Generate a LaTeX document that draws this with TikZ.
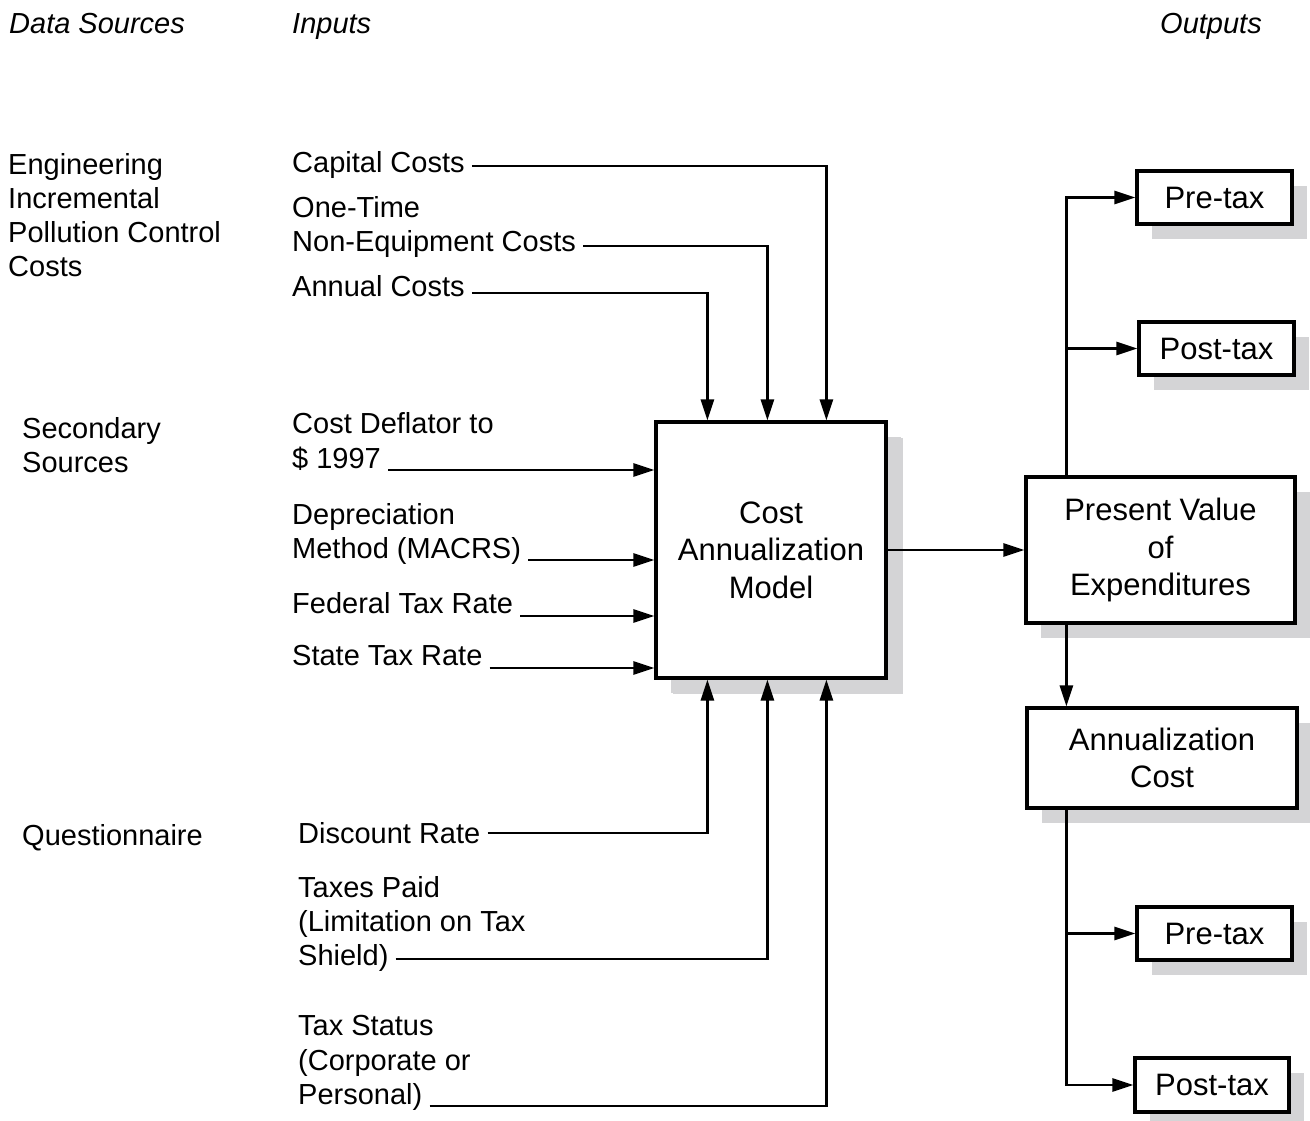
\documentclass[tikz,border=0pt]{standalone}
\usepackage{fontspec}
\setmainfont{Liberation Sans}
\usetikzlibrary{arrows.meta,shadows}
\definecolor{shadowgray}{RGB}{212,212,214}
\tikzset{
  lbl/.style={inner sep=0pt, anchor=base west, font=\fontsize{29pt}{34.5pt}\selectfont},
  hdr/.style={lbl, font=\fontsize{29pt}{34.5pt}\selectfont\itshape},
  box/.style={draw, line width=3.2pt, fill=white, align=center, inner sep=0pt,
    font=\fontsize{31pt}{37.5pt}\selectfont,
    drop shadow={shadow xshift=15pt, shadow yshift=-15pt, fill=shadowgray, opacity=1}},
  bigbox/.style={box, drop shadow={shadow xshift=17pt, shadow yshift=-16pt, fill=shadowgray, opacity=1}},
  conn/.style={line width=2.8pt},
  arr/.style={conn, -{Triangle[length=21pt 0 0,width=13pt 0 0]}}
}
\begin{document}
\begin{tikzpicture}[x=1pt,y=-1pt]
\useasboundingbox (0,0) rectangle (1310,1120);

% headers
\node[hdr] (hds) at (9,33) {Data Sources};
\node[hdr] (hin) at (292,33) {Inputs};
\node[hdr] (hout) at (1160,33) {Outputs};

% data sources
\node[lbl] (s1) at (8,174) {Engineering};
\node[lbl] (s2) at (8,208) {Incremental};
\node[lbl] (s3) at (8,242) {Pollution Control};
\node[lbl] (s4) at (8,276) {Costs};
\node[lbl] (s5) at (22,438) {Secondary};
\node[lbl] (s6) at (22,472) {Sources};
\node[lbl] (s7) at (22,845) {Questionnaire};

% inputs
\node[lbl] (cap) at (292,172) {Capital Costs};
\node[lbl] (one) at (292,217) {One-Time};
\node[lbl] (neq) at (292,251) {Non-Equipment Costs};
\node[lbl] (ann) at (292,296) {Annual Costs};
\node[lbl] (cdf) at (292,433) {Cost Deflator to};
\node[lbl] (dol) at (292,468) {\$ 1997};
\node[lbl] (dep) at (292,524) {Depreciation};
\node[lbl] (mac) at (292,558) {Method (MACRS)};
\node[lbl] (fed) at (292,613) {Federal Tax Rate};
\node[lbl] (sta) at (292,665) {State Tax Rate};
\node[lbl] (dis) at (298,843) {Discount Rate};
\node[lbl] (tp1) at (298,897) {Taxes Paid};
\node[lbl] (tp2) at (298,931) {(Limitation on Tax};
\node[lbl] (tp3) at (298,965) {Shield)};
\node[lbl] (ts1) at (298,1035) {Tax Status};
\node[lbl] (ts2) at (298,1070) {(Corporate or};
\node[lbl] (ts3) at (298,1104) {Personal)};

% boxes
\node[bigbox, minimum width=230pt, minimum height=256pt] (main) at (771,550) {Cost\\Annualization\\Model};
\node[box, minimum width=269pt, minimum height=146pt] (pv) at (1160.5,550) {Present Value\\of\\Expenditures};
\node[box, minimum width=270pt, minimum height=100pt] (ac) at (1162,758) {Annualization\\Cost};
\node[box, minimum width=155pt, minimum height=53pt] (pre1) at (1214.5,197.5) {Pre-tax};
\node[box, minimum width=155pt, minimum height=53pt] (post1) at (1216.5,348.5) {Post-tax};
\node[box, minimum width=155pt, minimum height=53pt] (pre2) at (1214.5,933.5) {Pre-tax};
\node[box, minimum width=154pt, minimum height=54pt] (post2) at (1212,1085) {Post-tax};

% top inputs
\draw[arr] ([xshift=7pt,yshift=6pt]cap.base east) -| ([xshift=172pt]main.north west);
\draw[arr] ([xshift=7pt,yshift=5pt]neq.base east) -| ([xshift=113pt]main.north west);
\draw[arr] ([xshift=7pt,yshift=3pt]ann.base east) -| ([xshift=53pt]main.north west);

% left inputs
\draw[arr] ([xshift=7pt,yshift=-2pt]dol.base east) coordinate (l1) -- (l1 -| main.west);
\draw[arr] ([xshift=7pt,yshift=-2pt]mac.base east) coordinate (l2) -- (l2 -| main.west);
\draw[arr] ([xshift=7pt,yshift=-3pt]fed.base east) coordinate (l3) -- (l3 -| main.west);
\draw[arr] ([xshift=7pt,yshift=-3pt]sta.base east) coordinate (l4) -- (l4 -| main.west);

% bottom inputs
\draw[arr] ([xshift=7pt,yshift=10pt]dis.base east) -| ([xshift=53pt]main.south west);
\draw[arr] ([xshift=7pt,yshift=6pt]tp3.base east) -| ([xshift=113pt]main.south west);
\draw[arr] ([xshift=7pt,yshift=-2pt]ts3.base east) -| ([xshift=172pt]main.south west);

% outputs
\draw[arr] (main.east) -- (pv.west);
\coordinate (t1) at ([xshift=42pt]pv.north west);
\draw[arr] (t1) |- (pre1.west);
\draw[arr] (t1 |- post1.west) -- (post1.west);
\draw[arr] (t1 |- pv.south) -- (t1 |- ac.north);
\draw[arr] (t1 |- ac.south) |- (post2.west);
\draw[arr] (t1 |- pre2.west) -- (pre2.west);
\end{tikzpicture}
\end{document}
